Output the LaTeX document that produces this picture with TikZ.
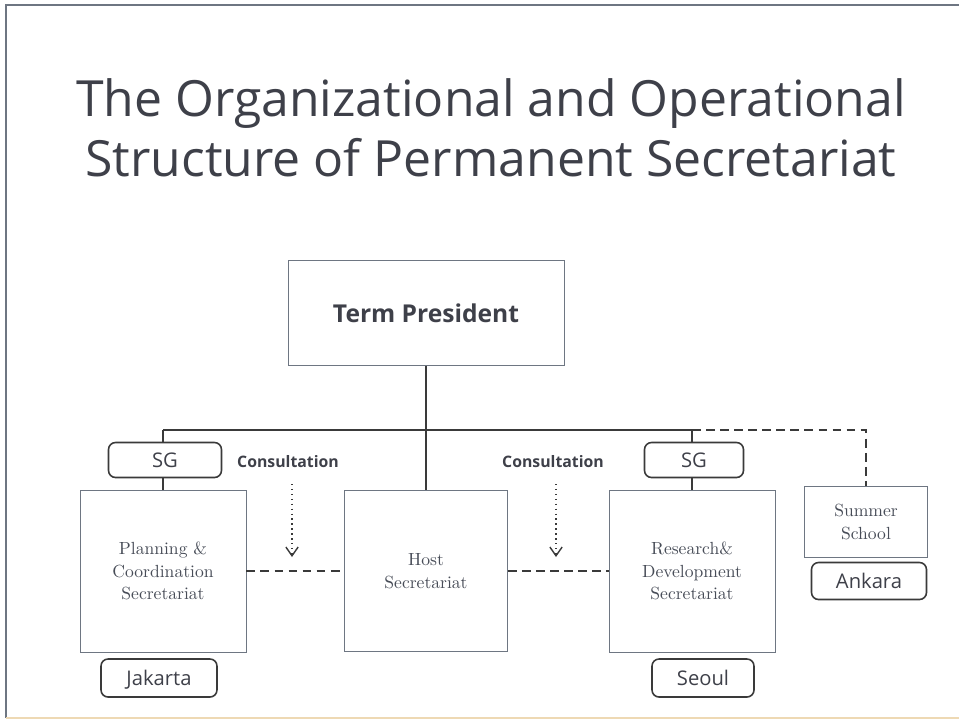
\documentclass[tikz,border=0pt]{standalone}
\usepackage{fontspec}
\setsansfont{Open Sans}
\usepackage{xcolor}
\usetikzlibrary{arrows.meta}

\definecolor{inkgray}{HTML}{3E4049}
\definecolor{linegray}{HTML}{3A3A3A}
\definecolor{boxgray}{HTML}{6E7682}
\definecolor{textgray}{HTML}{474C57}
\definecolor{edgeorange}{HTML}{EED9B4}

\begin{document}
\begin{tikzpicture}[x=0.02cm,y=-0.02cm,
  unit/.style={draw=boxgray,line width=0.5pt,align=center,text=textgray,
    font=\fontsize{10}{13}\selectfont,inner sep=0pt},
  tag/.style={draw=linegray,line width=0.9pt,rounded corners=4pt,text=inkgray,
    font=\sffamily\fontsize{11.5}{13}\selectfont,inner sep=0pt,
    text height=8.5pt,text depth=0.5pt},
  link/.style={draw=linegray,line width=1pt},
  dashlink/.style={draw=linegray,line width=1.2pt,dash pattern=on 5pt off 3pt},
  dotlink/.style={draw=linegray,line width=0.8pt,dotted,-{Straight Barb[length=5pt,width=7pt]}},
  consult/.style={text=inkgray,font=\sffamily\bfseries\fontsize{9}{11}\selectfont}]
  \useasboundingbox (0,0) rectangle (959,721);
  % frame
  \draw[color=boxgray,line width=1.5pt] (959,5) -- (6,5) -- (6,718);
  \draw[color=edgeorange,line width=1.5pt] (6,718) -- (959,718);

  \node[text=inkgray,font=\sffamily\fontsize{28.4}{34}\selectfont,align=center] (title) at (491,128)
    {The Organizational and Operational\\Structure of Permanent Secretariat};

  \node[unit,minimum width=5.52cm,minimum height=2.1cm,text=inkgray,
    font=\sffamily\bfseries\fontsize{14}{16}\selectfont] (pres) at (426,313) {Term President};

  \node[tag,minimum width=2.26cm,minimum height=0.7cm] (sg1) at (165,460) {SG};
  \node[tag,minimum width=1.98cm,minimum height=0.7cm] (sg2) at (694,460) {SG};

  \node[unit,minimum width=3.32cm,minimum height=3.24cm] (plan) at (163,571)
    {Planning \&\\Coordination\\Secretariat};
  \node[unit,minimum width=3.26cm,minimum height=3.22cm] (host) at (426,571)
    {Host\\Secretariat};
  \node[unit,minimum width=3.32cm,minimum height=3.24cm] (rnd) at (692,571)
    {Research\&\\Development\\Secretariat};
  \node[unit,minimum width=2.46cm,minimum height=1.42cm] (school) at (866,522)
    {Summer\\School};

  \node[tag,minimum width=2.32cm,minimum height=0.76cm] (jak) at (159,678) {Jakarta};
  \node[tag,minimum width=2.04cm,minimum height=0.76cm] (seo) at (703,678) {Seoul};
  \node[tag,minimum width=2.3cm,minimum height=0.74cm] (ank) at (869,581) {Ankara};

  \node[consult] (con1) at (288,462) {Consultation};
  \node[consult] (con2) at (553,462) {Consultation};

  \coordinate (bar1) at (163,430);
  \coordinate (bar2) at (692,430);
  \coordinate (turn) at (866,430);
  \coordinate (dot1) at (292,484);
  \coordinate (dot2) at (556,484);
  \coordinate (tip1) at (292,557);
  \coordinate (tip2) at (556,557);

  \draw[link] (pres.south) -- (host.north);
  \draw[link] (bar1) -- (bar2);
  \draw[link] (bar1) -- (sg1.north -| bar1);
  \draw[link] (sg1.south -| bar1) -- (plan.north);
  \draw[link] (bar2) -- (sg2.north -| bar2);
  \draw[link] (sg2.south -| bar2) -- (rnd.north);
  \draw[dashlink] (bar2) -- (turn) -- (school.north);

  \draw[dashlink] (plan.east) -- (host.west);
  \draw[dashlink] (host.east) -- (rnd.west);

  \draw[dotlink] (dot1) -- (tip1);
  \draw[dotlink] (dot2) -- (tip2);
\end{tikzpicture}
\end{document}
